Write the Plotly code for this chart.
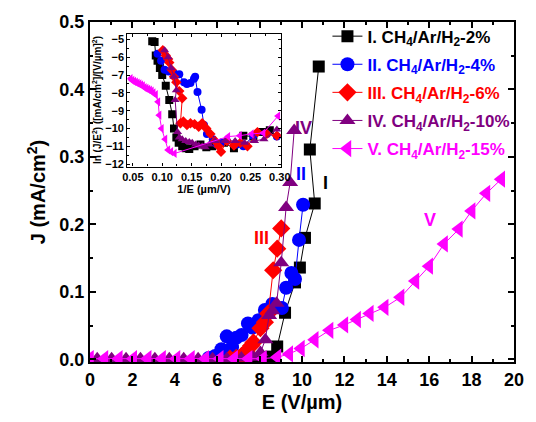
import plotly.graph_objects as go

# ---------------- main panel data: E (V/um) vs J (mA/cm^2) ----------------
E_I = [7.9, 8.3, 8.55, 8.83, 9.2, 9.67, 9.9, 10.14, 10.6, 10.37, 10.79]
J_I = [0.001, 0.002, 0.004, 0.019, 0.069, 0.114, 0.136, 0.180, 0.231, 0.311, 0.434]

E_II = [5.6, 5.9, 6.2, 6.45, 6.7, 6.9, 7.15, 7.45, 7.65, 7.95, 8.25, 8.6, 9.05, 9.25, 9.5, 9.67, 9.86, 10.05]
J_II = [0.002, 0.005, 0.015, 0.034, 0.018, 0.032, 0.036, 0.053, 0.047, 0.058, 0.073, 0.082, 0.076, 0.106, 0.128, 0.119, 0.177, 0.229]

E_III = [6.6, 6.9, 7.15, 7.38, 7.6, 7.71, 8.04, 8.25, 8.41, 8.64, 8.83, 9.02]
J_III = [0.001, 0.002, 0.005, 0.012, 0.020, 0.025, 0.046, 0.055, 0.068, 0.132, 0.164, 0.194]

E_IV = [0.34, 1.02, 1.7, 2.38, 3.06, 3.74, 4.42, 5.1, 5.78, 6.46, 7.14, 7.7, 8.04, 8.27, 8.45, 8.6, 8.8, 9.02, 9.25, 9.44, 9.63]
J_IV = [0.001, 0.001, 0.001, 0.001, 0.001, 0.001, 0.001, 0.001, 0.001, 0.001, 0.002, 0.003, 0.010, 0.029, 0.065, 0.072, 0.083, 0.143, 0.225, 0.262, 0.339]

E_V = [0.0, 0.68, 1.36, 2.04, 2.72, 3.40, 4.08, 4.76, 5.44, 6.12, 6.80, 7.48, 8.16, 8.84, 9.4, 9.95,
       10.6, 11.3, 12.0, 12.6, 13.2, 13.9, 14.65, 15.35, 16.0, 16.7, 17.4, 18.0, 18.7, 19.4]
J_V = [0.001] * 13 + [0.003, 0.008, 0.016, 0.029, 0.043, 0.051, 0.059, 0.068, 0.077, 0.092, 0.116,
                      0.138, 0.171, 0.193, 0.220, 0.246, 0.267]

# ---------------- inset data: 1/E (um/V) vs ln(J/E^2) ----------------
x_I = [0.083, 0.087, 0.089, 0.092, 0.096, 0.100, 0.106, 0.112, 0.117, 0.120, 0.124, 0.128, 0.134, 0.140,
       0.146, 0.155, 0.165, 0.175, 0.185, 0.195, 0.205, 0.222, 0.238, 0.255, 0.270, 0.283]
y_I = [-5.1, -5.15, -5.9, -6.2, -6.6, -7.0, -7.6, -8.4, -9.2, -10.0, -10.5, -10.8, -11.0, -11.1,
       -11.15, -11.0, -10.9, -11.05, -11.0, -10.9, -10.8, -11.1, -10.4, -10.45, -10.2, -10.1]

x_II = [0.092, 0.098, 0.104, 0.111, 0.120, 0.129, 0.137, 0.142, 0.148, 0.154, 0.156, 0.160, 0.167, 0.171,
        0.176, 0.186, 0.193, 0.200, 0.210, 0.227, 0.238, 0.255, 0.278, 0.295]
y_II = [-5.8, -6.2, -6.7, -6.8, -6.9, -6.95, -7.4, -7.5, -7.45, -7.2, -7.1, -7.95, -8.95, -9.8,
        -10.3, -10.6, -10.9, -10.8, -10.7, -10.9, -11.0, -10.4, -10.3, -10.45]

x_III = [0.101, 0.106, 0.110, 0.112, 0.116, 0.120, 0.124, 0.129, 0.134, 0.131, 0.136, 0.142, 0.148, 0.155,
         0.162, 0.168, 0.175, 0.182, 0.190, 0.196, 0.200, 0.210, 0.222, 0.233, 0.245, 0.262, 0.278, 0.295]
y_III = [-5.6, -5.9, -6.1, -6.3, -6.7, -7.1, -7.4, -7.9, -8.3, -9.7, -9.6, -9.8, -9.7, -9.75,
         -9.9, -9.7, -10.0, -10.3, -10.7, -11.0, -11.3, -10.7, -10.95, -10.8, -11.0, -10.2, -10.3, -10.4]

x_IV = [0.104, 0.110, 0.115, 0.120, 0.124, 0.122, 0.126, 0.129, 0.134, 0.140, 0.146, 0.151, 0.157, 0.162,
        0.168, 0.173, 0.180, 0.190, 0.207, 0.224, 0.240, 0.257, 0.273, 0.295]
y_IV = [-5.6, -6.0, -6.6, -7.1, -7.85, -8.4, -10.2, -10.5, -10.6, -10.7, -10.75, -10.8, -10.9, -10.95,
        -11.0, -11.05, -10.9, -10.7, -10.7, -10.7, -10.8, -10.7, -10.6, -10.05]

x_V = [0.046, 0.049, 0.052, 0.055, 0.058, 0.061, 0.064, 0.067, 0.070, 0.073, 0.076, 0.079, 0.082, 0.085,
       0.089, 0.093, 0.095, 0.099, 0.105, 0.110, 0.115, 0.121, 0.212, 0.232, 0.252, 0.272, 0.297]
y_V = [-7.2, -7.3, -7.35, -7.4, -7.45, -7.5, -7.55, -7.6, -7.7, -7.75, -7.8, -7.85, -7.9, -8.0,
       -8.1, -8.5, -9.25, -10.0, -10.6, -11.2, -11.3, -11.4, -10.45, -10.4, -10.3, -10.25, -9.3]

names = ["I. CH<sub>4</sub>/Ar/H<sub>2</sub>-2%",
         "II. CH<sub>4</sub>/Ar/H<sub>2</sub>-4%",
         "III. CH<sub>4</sub>/Ar/H<sub>2</sub>-6%",
         "IV. CH<sub>4</sub>/Ar/H<sub>2</sub>-10%",
         "V. CH<sub>4</sub>/Ar/H<sub>2</sub>-15%"]
labels = ["I", "II", "III", "IV", "V"]
label_pos = [(11.12, 0.261), (9.95, 0.274), (8.08, 0.180), (10.09, 0.343), (16.03, 0.206)]

colors = ["#000000", "#0000FF", "#FF0000", "#800080", "#FF00FF"]
symbols = ["square", "circle", "diamond", "triangle-up", "triangle-left"]
msize = [12, 14, 14, 14, 15]
isize = [8, 8, 8, 8, 8]

main_E = [E_I, E_II, E_III, E_IV, E_V]
main_J = [J_I, J_II, J_III, J_IV, J_V]
ins_x = [x_I, x_II, x_III, x_IV, x_V]
ins_y = [y_I, y_II, y_III, y_IV, y_V]

FONT = "Liberation Sans, Arial, sans-serif"

fig = go.Figure()
for i in range(5):
    fig.add_trace(go.Scatter(
        x=main_E[i], y=main_J[i], mode="lines+markers",
        name=f'<span style="color:{colors[i]}">{names[i]}</span>',
        legendgroup=f"g{i}",
        line=dict(color=colors[i], width=1),
        marker=dict(symbol=symbols[i], size=msize[i], color=colors[i], line=dict(width=0)),
        xaxis="x", yaxis="y"))
for i in range(5):
    fig.add_trace(go.Scatter(
        x=ins_x[i], y=ins_y[i], mode="lines+markers", showlegend=False,
        line=dict(color=colors[i], width=1),
        marker=dict(symbol=symbols[i], size=isize[i], color=colors[i], line=dict(width=0)),
        xaxis="x2", yaxis="y2"))

for i in range(5):
    fig.add_annotation(x=label_pos[i][0], y=label_pos[i][1], xref="x", yref="y", text=labels[i],
                       showarrow=False, font=dict(family=FONT, size=18, color=colors[i], weight="bold"))

axis_common = dict(showline=True, linecolor="black", linewidth=2, mirror="ticks",
                   ticks="inside", tickcolor="black", showgrid=False, zeroline=False)

fig.update_layout(
    width=536, height=422,
    margin=dict(l=90, r=18, t=18, b=54),
    paper_bgcolor="white", plot_bgcolor="white",
    font=dict(family=FONT, color="black"),
    showlegend=True,
    legend=dict(x=0.56, y=1.01, xanchor="left", yanchor="top", bgcolor="rgba(0,0,0,0)",
                font=dict(family=FONT, size=17, weight="bold"), tracegroupgap=3,
                itemsizing="trace"),
    xaxis=dict(range=[0, 20], dtick=2, tickformat="d", ticklen=6, tickwidth=1.5,
               minor=dict(dtick=1, ticks="inside", ticklen=3, tickcolor="black"),
               tickfont=dict(family=FONT, size=18, weight="bold"),
               title=dict(text="E (V/µm)", font=dict(family=FONT, size=20, weight="bold"), standoff=6),
               domain=[0, 1], **axis_common),
    yaxis=dict(range=[-0.004, 0.5], dtick=0.1, tickformat=".1f", ticklen=6, tickwidth=1.5,
               minor=dict(dtick=0.05, ticks="inside", ticklen=3, tickcolor="black"),
               tickfont=dict(family=FONT, size=18, weight="bold"),
               title=dict(text="J (mA/cm<sup>2</sup>)", font=dict(family=FONT, size=20, weight="bold"), standoff=8),
               domain=[0, 1], **axis_common),
    xaxis2=dict(range=[0.0406, 0.3017], tickvals=[0.05, 0.10, 0.15, 0.20, 0.25, 0.30],
                ticktext=["0.05", "0.10", "0.15", "0.20", "0.25", "0.30"], ticklen=3,
                minor=dict(dtick=0.025, tick0=0.05, ticks="inside", ticklen=2, tickcolor="black"),
                tickfont=dict(family=FONT, size=11, weight="bold"),
                title=dict(text="1/E (µm/V)", font=dict(family=FONT, size=11, weight="bold"), standoff=2),
                domain=[0.088, 0.450], anchor="y2", showline=True, linecolor="black", linewidth=1.2,
                mirror="ticks", ticks="inside", tickcolor="black", showgrid=False, zeroline=False),
    yaxis2=dict(range=[-12.13, -4.67], dtick=1, ticklen=3,
                minor=dict(dtick=0.5, ticks="inside", ticklen=2, tickcolor="black"),
                tickfont=dict(family=FONT, size=11, weight="bold"),
                title=dict(text="ln (J/E<sup>2</sup>) ([mA/cm<sup>2</sup>]/[V/µm]<sup>2</sup>)",
                           font=dict(family=FONT, size=10, weight="bold"), standoff=1),
                domain=[0.575, 0.966], anchor="x2", showline=True, linecolor="black", linewidth=1.2,
                mirror="ticks", ticks="inside", tickcolor="black", showgrid=False, zeroline=False),
)

fig.write_html("out.html")
